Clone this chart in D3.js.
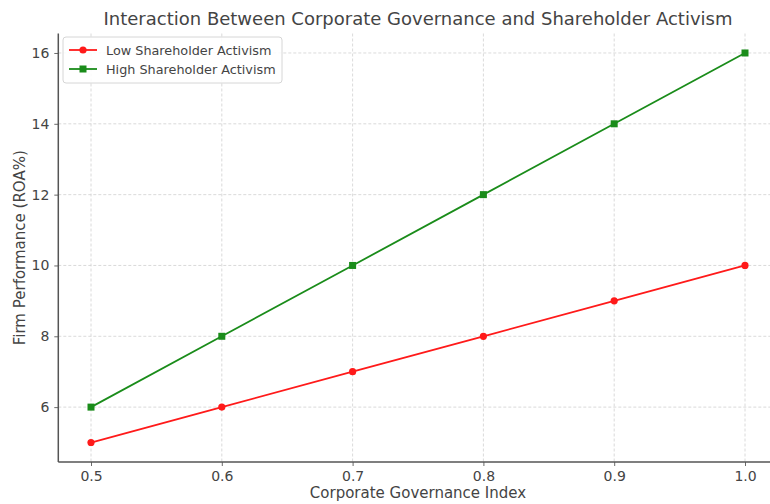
<!DOCTYPE html>
<html><head><meta charset="utf-8">
<script src="https://cdn.jsdelivr.net/npm/d3@7"></script>
<style>body{margin:0;background:#fff}svg{display:block}text{font-family:"DejaVu Sans",sans-serif}</style>
</head><body><svg id="c" width="770" height="504"></svg>
<script>
const governance = [0.5, 0.6, 0.7, 0.8, 0.9, 1.0];
const lowActivism = [5, 6, 7, 8, 9, 10];
const highActivism = [6, 8, 10, 12, 14, 16];
const xTicks = [0.5, 0.6, 0.7, 0.8, 0.9, 1.0];
const yTicks = [6, 8, 10, 12, 14, 16];
const seriesNames = ["Low Shareholder Activism", "High Shareholder Activism"];

const svg = d3.select("#c");
const L = 58.3, R = 777.7, T = 33.5, B = 462;
const x = d3.scaleLinear().domain([0.475, 1.025]).range([L, R]);
const y = d3.scaleLinear().domain([4.45, 16.55]).range([B, T]);

// grid
const g = svg.append("g");
g.selectAll(".gx").data(xTicks).join("line")
  .attr("x1", d => x(d)).attr("x2", d => x(d)).attr("y1", T).attr("y2", B)
  .attr("stroke", "#d0d0d0").attr("stroke-width", 0.8).attr("stroke-dasharray", "3,2");
g.selectAll(".gy").data(yTicks).join("line")
  .attr("x1", L).attr("x2", R).attr("y1", d => y(d)).attr("y2", d => y(d))
  .attr("stroke", "#d0d0d0").attr("stroke-width", 0.8).attr("stroke-dasharray", "3,2");

// axes
const xAxis = d3.axisBottom(x).tickValues(xTicks).tickFormat(d3.format(".1f")).tickSize(4).tickPadding(5);
const yAxis = d3.axisLeft(y).tickValues(yTicks).tickFormat(d3.format("d")).tickSize(4).tickPadding(5);
const ax = svg.append("g").attr("transform", `translate(0,${B})`).call(xAxis);
const ay = svg.append("g").attr("transform", `translate(${L},0)`).call(yAxis);
[ax, ay].forEach(a => {
  a.select(".domain").remove();
  a.selectAll(".tick line").attr("stroke", "#444").attr("stroke-width", 0.8);
  a.selectAll(".tick text").attr("fill", "#444").style("font-size", "14px");
});
svg.append("line").attr("x1", L).attr("x2", R).attr("y1", B).attr("y2", B).attr("stroke", "#555").attr("stroke-width", 1.5);
svg.append("line").attr("x1", L).attr("x2", L).attr("y1", T).attr("y2", B).attr("stroke", "#555").attr("stroke-width", 1.5);

// lines
const series = [
  {name: seriesNames[0], vals: lowActivism, color: "#ff1a1a", marker: "circle"},
  {name: seriesNames[1], vals: highActivism, color: "#1a8c1a", marker: "square"}
];
const line = d3.line().x((d, i) => x(governance[i])).y(d => y(d));
series.forEach(s => {
  svg.append("path").attr("d", line(s.vals)).attr("fill", "none").attr("stroke", s.color).attr("stroke-width", 1.8);
  if (s.marker === "circle") {
    svg.selectAll(null).data(s.vals).join("circle")
      .attr("cx", (d, i) => x(governance[i])).attr("cy", d => y(d)).attr("r", 3.6).attr("fill", s.color);
  } else {
    svg.selectAll(null).data(s.vals).join("rect")
      .attr("x", (d, i) => x(governance[i]) - 3.5).attr("y", d => y(d) - 3.5).attr("width", 7).attr("height", 7).attr("fill", s.color);
  }
});

// title & labels
svg.append("text").attr("x", (L + R) / 2).attr("y", 25).attr("text-anchor", "middle")
  .style("font-size", "18px").attr("fill", "#444").text("Interaction Between Corporate Governance and Shareholder Activism");
svg.append("text").attr("x", (L + R) / 2).attr("y", 498).attr("text-anchor", "middle")
  .style("font-size", "15px").attr("fill", "#444").text("Corporate Governance Index");
svg.append("text").attr("transform", `translate(25,${(T + B) / 2}) rotate(-90)`).attr("text-anchor", "middle")
  .style("font-size", "15px").attr("fill", "#444").text("Firm Performance (ROA%)");

// legend
const lg = svg.append("g").attr("transform", "translate(63,37)");
lg.append("rect").attr("width", 219).attr("height", 46).attr("rx", 3)
  .attr("fill", "#fff").attr("fill-opacity", 0.85).attr("stroke", "#ccc").attr("stroke-width", 0.8);
series.forEach((s, i) => {
  const yy = 13 + i * 19;
  lg.append("line").attr("x1", 6).attr("x2", 34).attr("y1", yy).attr("y2", yy).attr("stroke", s.color).attr("stroke-width", 1.8);
  if (s.marker === "circle") lg.append("circle").attr("cx", 20).attr("cy", yy).attr("r", 3.6).attr("fill", s.color);
  else lg.append("rect").attr("x", 16.5).attr("y", yy - 3.5).attr("width", 7).attr("height", 7).attr("fill", s.color);
  lg.append("text").attr("x", 43).attr("y", yy + 4.5).style("font-size", "12.8px").attr("fill", "#444").text(s.name);
});
</script></body></html>
